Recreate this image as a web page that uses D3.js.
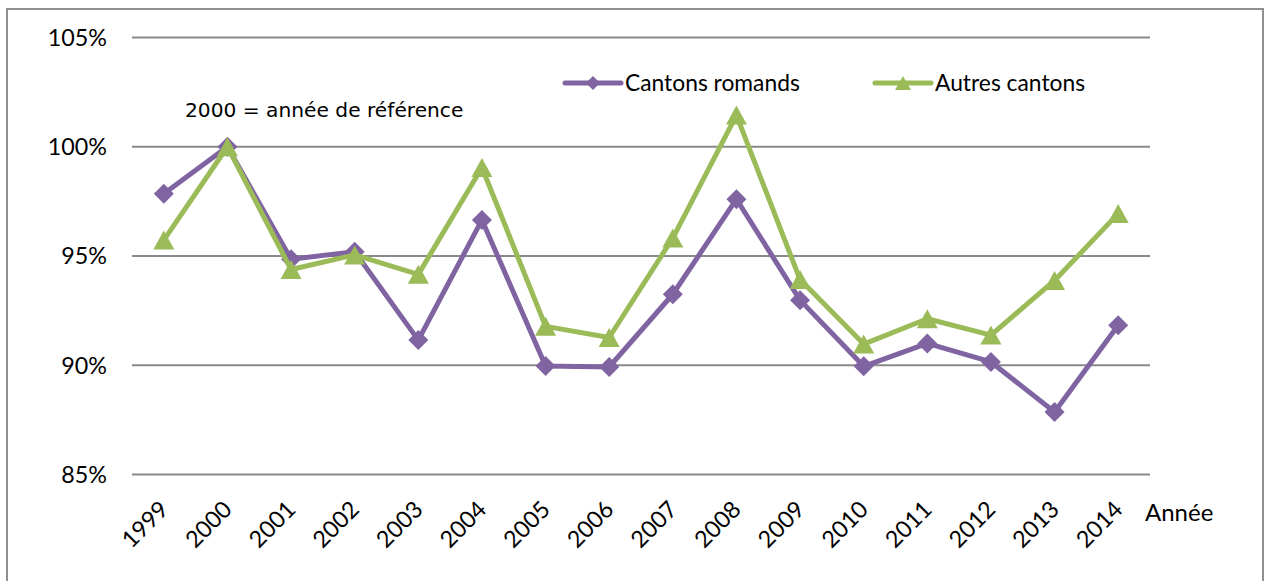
<!DOCTYPE html>
<html>
<head>
<meta charset="utf-8">
<script src="https://cdn.jsdelivr.net/npm/d3@7"></script>
<style>
  html, body { margin: 0; padding: 0; background: #fff; }
  svg { display: block; }
</style>
</head>
<body>
<script>
// Indice annuel (2000 = 100 %) : cantons romands vs autres cantons
const years = ['1999','2000','2001','2002','2003','2004','2005','2006','2007','2008','2009','2010','2011','2012','2013','2014'];
const romands = [97.85, 100, 94.85, 95.2, 91.15, 96.65, 89.97, 89.92, 93.25, 97.6, 92.98, 89.95, 91.0, 90.15, 87.86, 91.83];
const autres  = [95.73, 100, 94.38, 95.05, 94.16, 99.05, 91.78, 91.27, 95.82, 101.45, 93.92, 90.97, 92.13, 91.38, 93.88, 96.94];
const yTicks = [85, 90, 95, 100, 105];
const seriesNames = ['Cantons romands', 'Autres cantons'];
const note = '2000 = année de référence';
const xTitle = 'Année';

const W = 1266, H = 581;
const purple = '#8064A2', green = '#9BBB59', grid = '#898989';
const font = 'Lato, "Open Sans", sans-serif';

const svg = d3.select('body').append('svg').attr('width', W).attr('height', H);
svg.append('rect').attr('width', W).attr('height', H).attr('fill', '#fff');

// chart frame
svg.append('rect')
  .attr('x', 7).attr('y', 9).attr('width', 1256).attr('height', 620)
  .attr('fill', 'none').attr('stroke', '#8f8f8f').attr('stroke-width', 2);

const x = d3.scaleBand().domain(years).range([132, 1150]);
const cx = d => x(d) + x.bandwidth() / 2;
const y = d3.scaleLinear().domain([85, 105]).range([474.5, 37.5]);

// horizontal gridlines
svg.append('g').selectAll('line').data(yTicks).join('line')
  .attr('x1', 132).attr('x2', 1150)
  .attr('y1', d => y(d)).attr('y2', d => y(d))
  .attr('stroke', grid).attr('stroke-width', 2);

// y tick labels
svg.append('g').selectAll('text').data(yTicks).join('text')
  .attr('x', 107).attr('y', d => y(d)).attr('dy', '0.36em')
  .attr('text-anchor', 'end')
  .style('font-family', font).style('font-size', '23.3px').attr('fill', '#000')
  .text(d => d + '%');

// x tick labels, rotated
svg.append('g').selectAll('text').data(years).join('text')
  .attr('transform', d => `translate(${cx(d) + 6},${511}) rotate(-45)`)
  .attr('text-anchor', 'end')
  .style('font-family', font).style('font-size', '23.3px').attr('fill', '#000')
  .text(d => d);

svg.append('text').attr('x', 1145).attr('y', 521)
  .style('font-family', font).style('font-size', '24px').attr('fill', '#000')
  .text(xTitle);

svg.append('text').attr('x', 185).attr('y', 117)
  .style('font-family', '"DejaVu Sans", Verdana, sans-serif').style('font-size', '20.2px').attr('fill', '#000')
  .text(note);

const diamond = r => `M0,${-r}L${r},0L0,${r}L${-r},0Z`;
const triangle = (w, h) => `M0,${-h / 2}L${w / 2},${h / 2}L${-w / 2},${h / 2}Z`;

const series = [
  { name: seriesNames[0], values: romands, color: purple, shape: diamond(10), legendShape: diamond(7) },
  { name: seriesNames[1], values: autres, color: green, shape: triangle(21, 19), legendShape: triangle(16, 14) }
];

const line = d3.line().x((d, i) => cx(years[i])).y(d => y(d));

series.forEach(s => {
  const g = svg.append('g');
  g.append('path').datum(s.values)
    .attr('d', line).attr('fill', 'none')
    .attr('stroke', s.color).attr('stroke-width', 5)
    .attr('stroke-linejoin', 'round').attr('stroke-linecap', 'round');
  g.selectAll('path.m').data(s.values).join('path').attr('class', 'm')
    .attr('d', s.shape)
    .attr('transform', (d, i) => `translate(${cx(years[i])},${y(d)})`)
    .attr('fill', s.color);
});

// legend
const legendX = [565, 875];
series.forEach((s, i) => {
  const g = svg.append('g').attr('transform', `translate(${legendX[i]},83)`);
  g.append('line').attr('x1', 0).attr('x2', 56).attr('y1', 0).attr('y2', 0)
    .attr('stroke', s.color).attr('stroke-width', 5).attr('stroke-linecap', 'round');
  g.append('path').attr('d', s.legendShape).attr('transform', 'translate(28,0)').attr('fill', s.color);
  g.append('text').attr('x', 60).attr('y', 0).attr('dy', '0.36em')
    .style('font-family', font).style('font-size', '22.8px').attr('fill', '#000')
    .text(s.name);
});
</script>
</body>
</html>
